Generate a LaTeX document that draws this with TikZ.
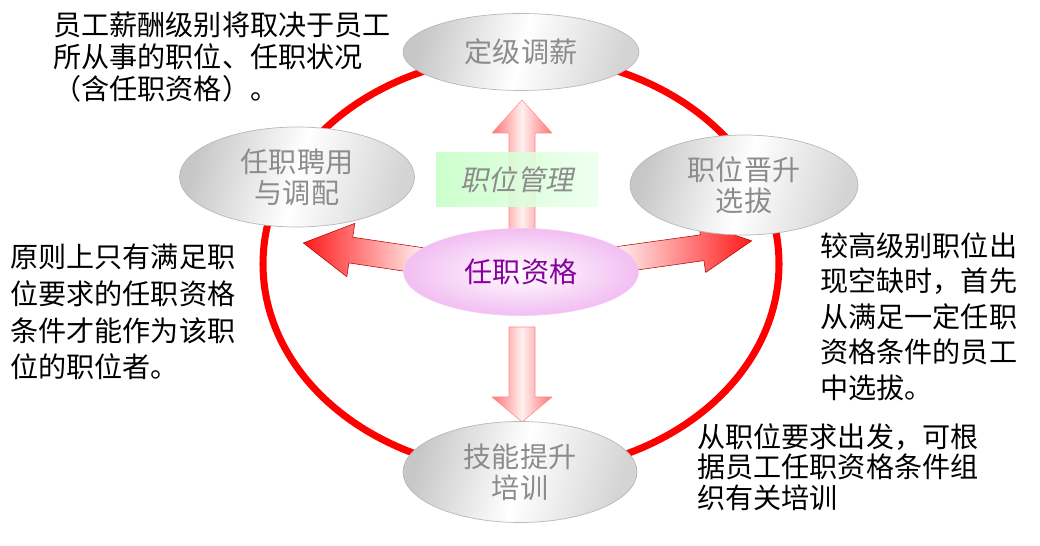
\documentclass[tikz,border=0pt]{standalone}
\usepackage{fontspec}
\setmainfont{Noto Sans CJK SC}
\newfontfamily\slcjk[FakeSlant=0.2]{Noto Sans CJK SC}
\usetikzlibrary{shapes.geometric}
\definecolor{ringred}{RGB}{255,0,0}
\definecolor{qualpurple}{RGB}{135,0,160}
\definecolor{qualpink}{RGB}{242,190,242}

\begin{document}
\begin{tikzpicture}[x=0.02cm,y=-0.02cm,line cap=round,line join=round,every node/.style={inner sep=0pt},
  bubble/.style={ellipse,draw=black!28,line width=0.4pt,left color=black!22,right color=black!17,middle color=white,shading angle=75,text=black!45,font=\fontsize{16}{17.6}\selectfont,align=center},
  note/.style={anchor=north west,align=left,text=black},
  blockarrow/.style={draw=red!70!black,line width=0.3pt}]
  \useasboundingbox (0,0) rectangle (1040,546);
  % ring
  \draw[ringred,line width=4pt] (521,264) ellipse[x radius=258,y radius=208];
  % block arrows out of the centre
  \coordinate (upt) at (522,245);
  \coordinate (dnt) at (522,327);
  \coordinate (lft) at (424,261);
  \coordinate (rgt) at (615,260);
  \begin{scope}[shift={(upt)}]
    \draw[blockarrow,draw=red!45,left color=red!55,right color=red!55,middle color=red!6] (-13,0) -- (-13,-112) -- (-30,-112) -- (0,-145) -- (30,-112) -- (13,-112) -- (13,0) -- cycle;
  \end{scope}
  \begin{scope}[shift={(dnt)}]
    \draw[blockarrow,draw=red!45,left color=red!55,right color=red!55,middle color=red!6] (-13,0) -- (-13,70) -- (-30,70) -- (0,95) -- (30,70) -- (13,70) -- (13,0) -- cycle;
  \end{scope}
  \begin{scope}[shift={(lft)},rotate=-8.5]
    \draw[blockarrow,left color=red!90,right color=red!4] (0,-13) -- (-74,-13) -- (-74,-27) -- (-122,0) -- (-74,27) -- (-74,13) -- (0,13) -- cycle;
  \end{scope}
  \begin{scope}[shift={(rgt)},rotate=8]
    \draw[blockarrow,left color=red!4,right color=red!90] (0,-13) -- (88,-13) -- (88,-25) -- (138,0) -- (88,25) -- (88,13) -- (0,13) -- cycle;
  \end{scope}
  % label box over the up arrow
  \node[fill opacity=0.9,text opacity=1,left color=green!22,right color=green!7,minimum width=3.24cm,minimum height=1.08cm,text=black!45,font=\slcjk\fontsize{16}{18}\selectfont] (mgmt) at (517,180) {职位管理};
  % centre and the four bubbles
  \node[ellipse,draw=qualpink!80,line width=0.4pt,inner color=white,outer color=qualpink,minimum width=4.7cm,minimum height=1.74cm,text=qualpurple,font=\fontsize{16}{18}\selectfont] (qual) at (521,272) {任职资格};
  \node[bubble,minimum width=4.72cm,minimum height=1.54cm] (grade) at (521,52) {定级调薪};
  \node[bubble,minimum width=4.7cm,minimum height=2.0cm] (hire) at (297,177) {任职聘用\\与调配};
  \node[bubble,minimum width=4.56cm,minimum height=2.0cm] (promo) at (744,185) {职位晋升\\选拔};
  \node[bubble,minimum width=4.68cm,minimum height=2.02cm] (train) at (520,472) {技能提升\\培训};
  % notes
  \node[note,font=\fontsize{16}{18}\selectfont] (paynote) at (53,12) {员工薪酬级别将取决于员工\\所从事的职位、任职状况\\（含任职资格）。};
  \node[note,font=\fontsize{16}{20.8}\selectfont] (rulenote) at (10,244) {原则上只有满足职\\位要求的任职资格\\条件才能作为该职\\位的职位者。};
  \node[note,font=\fontsize{16}{20.2}\selectfont] (promonote) at (820,232) {较高级别职位出\\现空缺时，首先\\从满足一定任职\\资格条件的员工\\中选拔。};
  \node[note,font=\fontsize{16}{17.4}\selectfont] (trainnote) at (697,423) {从职位要求出发，可根\\据员工任职资格条件组\\织有关培训};
\end{tikzpicture}
\end{document}
